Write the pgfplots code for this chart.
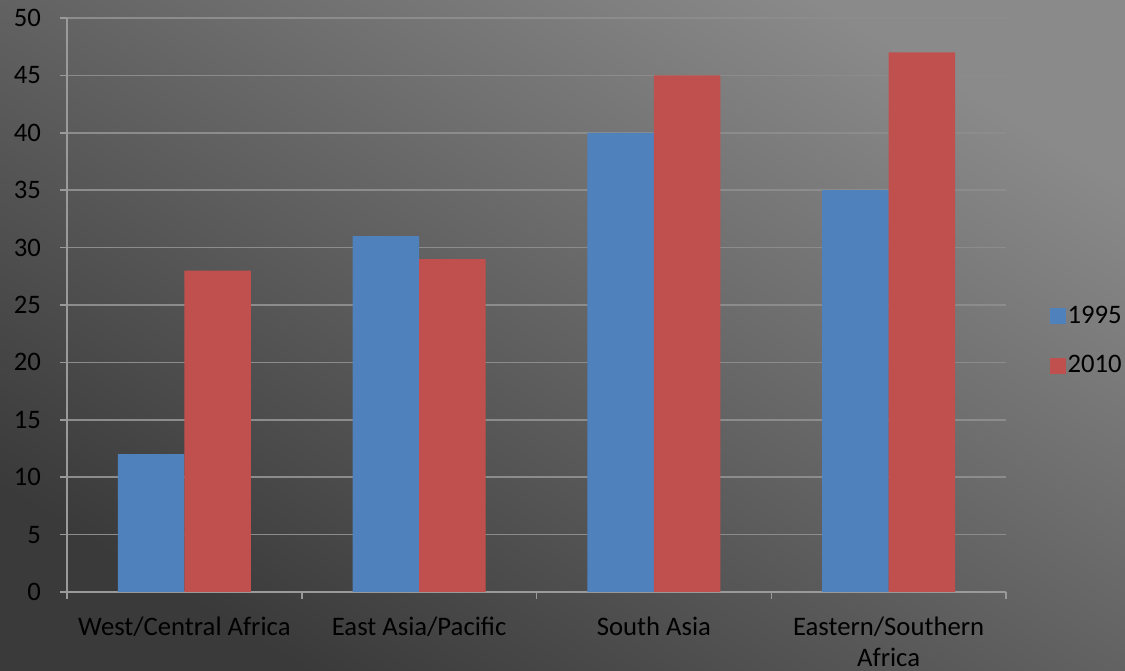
\documentclass[border=0pt]{standalone}
\usepackage{pgfplots}
\pgfplotsset{compat=1.18}
\usepackage{fontspec}
\setmainfont{Carlito}
\definecolor{bblue}{HTML}{4F81BD}
\definecolor{rred}{HTML}{C0504D}
\definecolor{gridc}{HTML}{8C8C8C}
\definecolor{axc}{HTML}{9A9A9A}
\definecolor{bgdark}{HTML}{3A3A3A}
\definecolor{bglight}{HTML}{8A8A8A}
\begin{document}
\fontsize{26.8}{32}\selectfont
\begin{tikzpicture}[x=1bp,y=1bp]
\shade[shading=axis, bottom color=bgdark, top color=bglight, shading angle=-31] (0,0) rectangle (1125,671);
\useasboundingbox (0,0) rectangle (1125,671);
\begin{axis}[
  at={(67bp,79bp)}, anchor=south west,
  scale only axis, width=939bp, height=574bp,
  xmin=-0.5, xmax=3.5, ymin=0, ymax=50,
  axis lines*=left,
  axis line style={draw=axc, line width=1.5bp},
  ymajorgrids, grid style={draw=gridc, line width=1.5bp},
  ytick={0,5,...,50},
  xtick={-0.5,0.5,1.5,2.5,3.5},
  x tick label as interval,
  xticklabels={West/Central Africa, East Asia/Pacific, South Asia, {Eastern/Southern\\[-1bp]Africa}},
  xticklabel style={align=center, font=\fontsize{26.8}{32}\selectfont, text=black, inner ysep=0pt, yshift=-18bp},
  yticklabel style={font=\fontsize{26.8}{32}\selectfont, text=black, xshift=-10bp},
  /pgf/number format/assume math mode=true,
  tick align=outside,
  major tick length=7bp,
  tick style={draw=axc, line width=1.5bp},
  ybar=0pt, bar width=0.283,
  legend style={at={(1.043,0.437)}, anchor=west, draw=none, fill=none,
    font=\fontsize{26.8}{32}\selectfont, text=black, row sep=24bp},
  legend cell align=left,
  legend image code/.code={\fill[#1,draw=none] (0bp,-8bp) rectangle (16bp,8bp);},
]
\addplot[fill=bblue, draw=none] coordinates {(0,12) (1,31) (2,40) (3,35)};
\addplot[fill=rred, draw=none] coordinates {(0,28) (1,29) (2,45) (3,47)};
\legend{1995,2010}
\end{axis}
\end{tikzpicture}
\end{document}
